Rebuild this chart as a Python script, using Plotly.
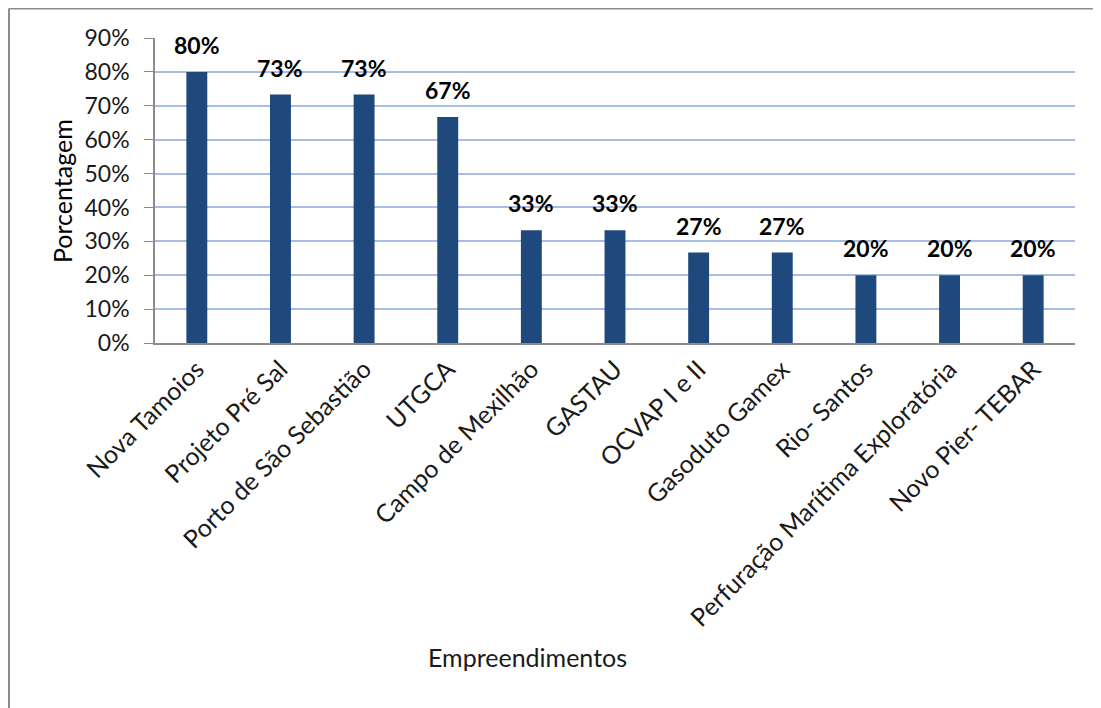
import plotly.graph_objects as go

categories = ["Nova Tamoios", "Projeto Pré Sal", "Porto de São Sebastião", "UTGCA",
              "Campo de Mexilhão", "GASTAU", "OCVAP I e II", "Gasoduto Gamex",
              "Rio- Santos", "Perfuração Marítima Exploratória", "Novo Pier- TEBAR"]
values = [0.80, 0.733, 0.733, 0.667, 0.333, 0.333, 0.267, 0.267, 0.20, 0.20, 0.20]
yticks = [0, 0.1, 0.2, 0.3, 0.4, 0.5, 0.6, 0.7, 0.8, 0.9]
ytick_labels = ["0%", "10%", "20%", "30%", "40%", "50%", "60%", "70%", "80%", "90%"]

FONT = "Lato, 'Open Sans', sans-serif"
# page body has an 8px margin, so the figure is 8px smaller and offset
W, H = 1093, 700
ml, mr, mt, mb = 147, 26, 30, 365
pw, ph = W - ml - mr, H - mt - mb

fig = go.Figure()
fig.add_trace(go.Bar(x=categories, y=values, marker=dict(color="#1F497D", line=dict(width=0)),
                     width=0.25, hoverinfo="skip"))

for c, v in zip(categories, values):
    fig.add_annotation(x=c, y=v, text="<b>%d%%</b>" % round(v * 100), showarrow=False,
                       yshift=27, font=dict(size=23, color="#000000", family=FONT))

# axis titles
fig.add_annotation(xref="paper", yref="paper", x=(519 - ml) / pw, y=-(649 - (H - mb)) / ph,
                   text="Empreendimentos", showarrow=False, xanchor="center", yanchor="middle",
                   font=dict(size=25, color="#1a1a1a", family=FONT))
fig.add_annotation(xref="paper", yref="paper", x=(54 - ml) / pw, y=((H - mb) - 183) / ph,
                   text="Porcentagem", showarrow=False, textangle=-90, xanchor="center", yanchor="middle",
                   font=dict(size=25, color="#000000", family=FONT))

# outer frame (top and left edges)
fx0 = (1 - ml) / pw
fy1 = 1 + (mt - 0.5) / ph
fig.add_shape(type="line", xref="paper", yref="paper", x0=fx0, x1=1 + mr / pw, y0=fy1, y1=fy1,
              line=dict(color="#8C8C8C", width=2))
fig.add_shape(type="line", xref="paper", yref="paper", x0=fx0, x1=fx0, y0=fy1, y1=-mb / ph,
              line=dict(color="#8C8C8C", width=2))

fig.update_layout(
    width=W, height=H,
    margin=dict(l=ml, r=mr, t=mt, b=mb),
    paper_bgcolor="white", plot_bgcolor="white",
    showlegend=False,
    font=dict(family=FONT, color="#000000"),
)
fig.update_yaxes(range=[0, 0.9], tickvals=yticks, ticktext=ytick_labels,
                 showgrid=True, gridcolor="#A6BEE6", gridwidth=2,
                 showline=True, linecolor="#8C8C8C", linewidth=1.5,
                 ticks="outside", ticklen=9, tickcolor="#8C8C8C",
                 ticklabelstandoff=10,
                 tickfont=dict(size=23, color="#1a1a1a", family=FONT),
                 zeroline=False)
fig.update_xaxes(tickangle=-45, showline=True, linecolor="#8C8C8C", linewidth=1.5,
                 tickfont=dict(size=25, color="#1a1a1a", family=FONT),
                 showgrid=False)

fig.write_html("out.html")
